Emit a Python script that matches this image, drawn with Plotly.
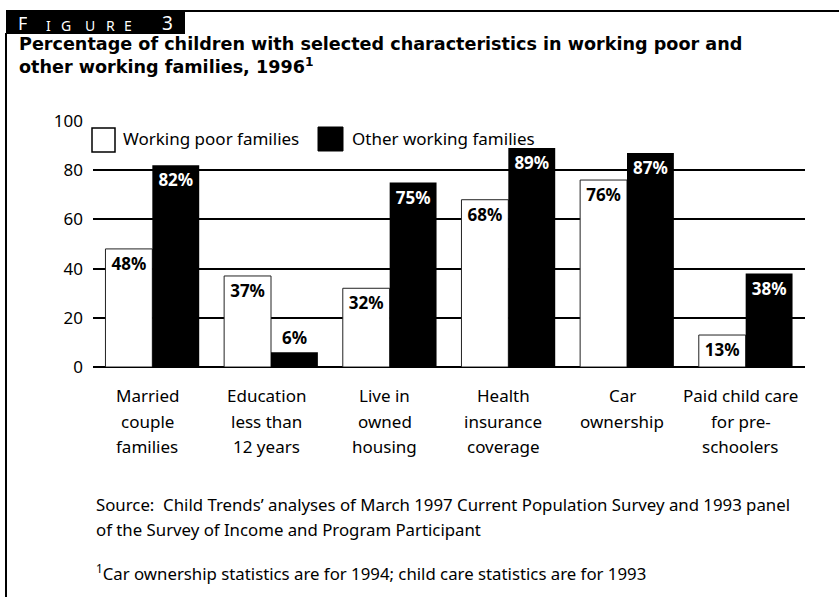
import plotly.graph_objects as go

# ---- data -------------------------------------------------------------
categories = [
    "Married couple families",
    "Education less than 12 years",
    "Live in owned housing",
    "Health insurance coverage",
    "Car ownership",
    "Paid child care for pre-schoolers",
]
category_lines = [
    ["Married", "couple", "families"],
    ["Education", "less than", "12 years"],
    ["Live in", "owned", "housing"],
    ["Health", "insurance", "coverage"],
    ["Car", "ownership", ""],
    ["Paid child care", "for pre-", "schoolers"],
]
working_poor = [48, 37, 32, 68, 76, 13]
other_working = [82, 6, 75, 89, 87, 38]
y_ticks = [0, 20, 40, 60, 80, 100]

series_names = ["Working poor families", "Other working families"]

title_lines = [
    "Percentage of children with selected characteristics in working poor and",
    "other working families, 1996<sup>1</sup>",
]
source_lines = [
    "Source:  Child Trends\u2019 analyses of March 1997 Current Population Survey and 1993 panel",
    "of the Survey of Income and Program Participant",
]
footnote = "<sup>1</sup>Car ownership statistics are for 1994; child care statistics are for 1993"

# ---- page geometry (pixels) -------------------------------------------
W, H = 839, 597
L, R, T, B = 93, 34, 121, 230
PW, PH = W - L - R, H - T - B
FONT = "Noto Sans"
TITLE_FONT = "DejaVu Sans"


def xp(px):
    return (px - L) / PW


def yp(py):
    return (H - B - py) / PH


fig = go.Figure()

fig.add_trace(go.Bar(
    x=categories, y=working_poor, name=series_names[0],
    marker=dict(color="white", line=dict(color="#222", width=1)),
    text=[f"{v}%" for v in working_poor],
    textposition="inside", insidetextanchor="end",
    textfont=dict(family=FONT, size=17, color="black", weight="bold"),
    constraintext="none", cliponaxis=False, showlegend=False,
))
fig.add_trace(go.Bar(
    x=categories, y=other_working, name=series_names[1],
    marker=dict(color="black", line=dict(color="black", width=0)),
    text=[f"{v}%" for v in other_working],
    textposition=["outside" if v < 15 else "inside" for v in other_working],
    insidetextanchor="end",
    insidetextfont=dict(family=FONT, size=17, color="white", weight="bold"),
    outsidetextfont=dict(family=FONT, size=17, color="black", weight="bold"),
    constraintext="none", cliponaxis=False, showlegend=False,
))

shapes = []
annotations = []

# frame: label box, top rule, left rule
shapes.append(dict(type="rect", xref="paper", yref="paper",
                   x0=xp(6), x1=xp(185), y0=yp(34), y1=yp(10),
                   fillcolor="black", line=dict(width=0), layer="above"))
shapes.append(dict(type="line", xref="paper", yref="paper",
                   x0=xp(185), x1=xp(839), y0=yp(11), y1=yp(11),
                   line=dict(color="black", width=2)))
shapes.append(dict(type="line", xref="paper", yref="paper",
                   x0=xp(6), x1=xp(6), y0=yp(33), y1=yp(597),
                   line=dict(color="black", width=2)))

# "FIGURE 3" label in spaced small caps
for ch, cx, size, cy in [("F", 22, 18, 23), ("I", 48, 14, 25), ("G", 66, 14, 25),
                         ("U", 90, 14, 25), ("R", 110, 14, 25), ("E", 128, 14, 25),
                         ("3", 167, 19, 23)]:
    annotations.append(dict(text=ch, xref="paper", yref="paper",
                            x=xp(cx), y=yp(cy), xanchor="center", yanchor="middle",
                            showarrow=False, height=14, borderpad=0,
                            font=dict(family=FONT, size=size, color="white")))

# title, two lines
for line, cy in zip(title_lines, [44, 66]):
    annotations.append(dict(text=f"<b>{line}</b>", xref="paper", yref="paper",
                            x=xp(18), y=yp(cy), xanchor="left", yanchor="middle",
                            align="left", showarrow=False, height=22, borderpad=0,
                            font=dict(family=TITLE_FONT, size=17.6, color="black")))

# legend
shapes.append(dict(type="rect", xref="paper", yref="paper",
                   x0=xp(92), x1=xp(115), y0=yp(152), y1=yp(128),
                   fillcolor="white", line=dict(color="black", width=1.5)))
shapes.append(dict(type="rect", xref="paper", yref="paper",
                   x0=xp(318), x1=xp(343), y0=yp(151), y1=yp(127),
                   fillcolor="black", line=dict(color="black", width=1)))
for name, lx in zip(series_names, [121, 350]):
    annotations.append(dict(text=name, xref="paper", yref="paper",
                            x=xp(lx), y=yp(138), xanchor="left", yanchor="middle",
                            showarrow=False,
                            font=dict(family=FONT, size=17, color="black")))

# category labels, one line at a time
for cat, lines in zip(categories, category_lines):
    for line, cy in zip(lines, [395, 421, 446]):
        if not line:
            continue
        annotations.append(dict(text=line, xref="x", yref="paper",
                                x=cat, xshift=-5, y=yp(cy),
                                xanchor="center", yanchor="middle", showarrow=False,
                                font=dict(family=FONT, size=17, color="black")))

# source and footnote
for line, cy in zip(source_lines + [footnote], [504, 529, 572]):
    annotations.append(dict(text=line, xref="paper", yref="paper",
                            x=xp(94), y=yp(cy), xanchor="left", yanchor="middle",
                            showarrow=False,
                            font=dict(family=FONT, size=16.8, color="black")))

fig.update_layout(
    width=W, height=H,
    margin=dict(l=L, r=R, t=T, b=B, pad=0),
    paper_bgcolor="white", plot_bgcolor="white",
    barmode="group", bargap=0.21, bargroupgap=0,
    shapes=shapes, annotations=annotations,
    font=dict(family=FONT, color="black"),
)
fig.update_xaxes(showticklabels=False, showgrid=False, zeroline=False,
                 showline=False, ticks="")
fig.update_yaxes(range=[0, 100], tickvals=y_ticks, showgrid=True,
                 gridcolor="black", gridwidth=2, zeroline=True,
                 zerolinecolor="black", zerolinewidth=2, showline=False,
                 ticks="", ticklabelstandoff=9,
                 tickfont=dict(family=FONT, size=17, color="black"))

fig.write_html("out.html")
